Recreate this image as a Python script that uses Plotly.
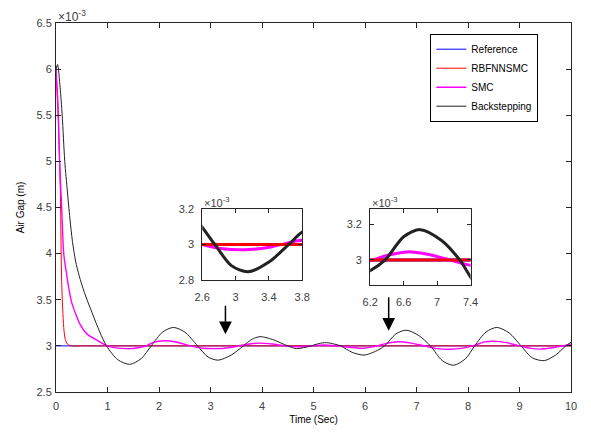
import plotly.graph_objects as go

# ---- data (values in units of 1e-3 m) ----
ref_t = [0, 10]
ref_v = [3.0, 3.0]

rbf_t = [0, 0.04, 0.07, 0.09, 0.10, 0.11, 0.13, 0.15, 0.18, 0.22, 0.30, 0.5, 10]
rbf_v = [6.0, 5.5, 5.0, 4.5, 4.0, 3.7, 3.4, 3.2, 3.07, 3.02, 3.0, 3.0, 3.0]

smc_t = [0, 0.04, 0.07, 0.11, 0.15, 0.20, 0.25, 0.30, 0.38, 0.47, 0.60, 0.80, 1.0,
         1.2, 1.4, 1.6, 1.75, 1.9, 2.1, 2.35, 2.6, 2.85, 3.1, 3.35, 3.55, 3.75, 3.95,
         4.2, 4.45, 4.7, 4.95, 5.2, 5.45, 5.7, 5.95, 6.2, 6.4, 6.65, 6.9, 7.15, 7.4,
         7.65, 7.9, 8.1, 8.3, 8.5, 8.75, 9.0, 9.2, 9.4, 9.65, 9.85, 10.0]
smc_v = [6.0, 5.6, 5.0, 4.5, 4.0, 3.8, 3.62, 3.48, 3.35, 3.23, 3.13, 3.06, 3.0,
         2.975, 2.97, 2.98, 3.0, 3.04, 3.055, 3.04, 3.0, 2.975, 2.97, 2.98, 3.0, 3.02, 3.03,
         3.02, 3.0, 2.99, 3.0, 3.01, 3.0, 2.985, 2.975, 2.995, 3.025, 3.045, 3.03, 3.0, 2.97,
         2.963, 2.975, 3.0, 3.04, 3.05, 3.035, 3.0, 2.975, 2.965, 2.98, 3.0, 3.02]

bs_t = [0, 0.03, 0.08, 0.12, 0.17, 0.22, 0.27, 0.32, 0.38, 0.45, 0.55, 0.70, 0.85, 0.98,
        1.2, 1.43, 1.65, 1.85, 2.07, 2.28, 2.5, 2.75, 2.95, 3.15, 3.4, 3.64,
        3.8, 3.96, 4.2, 4.5, 4.67, 4.8, 4.96, 5.1, 5.25, 5.4, 5.53, 5.75, 5.98,
        6.2, 6.38, 6.6, 6.8, 7.05, 7.27, 7.5, 7.72, 7.95, 8.13, 8.35, 8.56, 8.8,
        9.03, 9.25, 9.48, 9.7, 9.9, 10.0]
bs_v = [6.0, 6.05, 5.8, 5.5, 5.0, 4.68, 4.38, 4.13, 3.92, 3.76, 3.58, 3.36, 3.15, 3.0,
        2.85, 2.80, 2.86, 3.0, 3.15, 3.20, 3.15, 3.0, 2.88, 2.845, 2.9, 3.0,
        3.07, 3.10, 3.07, 3.0, 2.97, 2.98, 3.0, 3.025, 3.035, 3.02, 3.0, 2.93, 2.90,
        2.94, 3.0, 3.13, 3.17, 3.11, 3.0, 2.84, 2.79, 2.86, 3.0, 3.15, 3.2, 3.14,
        3.0, 2.87, 2.84, 2.9, 3.0, 3.04]

x_ticks = [0, 1, 2, 3, 4, 5, 6, 7, 8, 9, 10]
y_ticks = [2.5, 3, 3.5, 4, 4.5, 5, 5.5, 6, 6.5]
in1_xticks = [2.6, 3, 3.4, 3.8]
in1_yticks = [2.8, 3, 3.2]
in2_xticks = [6.2, 6.6, 7, 7.4]
in2_yticks = [3, 3.2]

series = [
    ("Reference", ref_t, ref_v, "#0000ff", 1),
    ("RBFNNSMC", rbf_t, rbf_v, "#ff0000", 1),
    ("SMC", smc_t, smc_v, "#ff00ff", 1.4),
    ("Backstepping", bs_t, bs_v, "#222222", 1),
]

FONT = "Liberation Sans, Arial, sans-serif"
AX = "#262626"
TXT = "#404040"

fig = go.Figure()
for name, t, v, c, w in series:
    fig.add_trace(go.Scatter(x=t, y=v, mode="lines", name=name,
                             line=dict(color=c, width=w, shape="spline", smoothing=0.8),
                             xaxis="x", yaxis="y"))
# insets
for ax_id in ("2", "3"):
    order = [0, 2, 1, 3]
    for i in order:
        name, t, v, c, w = series[i]
        fig.add_trace(go.Scatter(x=t, y=v, mode="lines", name=name, showlegend=False,
                                 line=dict(color=c, width=3, shape="spline", smoothing=0.8),
                                 xaxis="x" + ax_id, yaxis="y" + ax_id))

common = dict(showline=True, linecolor=AX, linewidth=1, mirror="ticks", ticks="inside",
              tickcolor=AX, showgrid=False, zeroline=False,
              tickfont=dict(family=FONT, size=11, color=TXT))

fig.update_layout(
    width=591, height=435,
    margin=dict(l=56, r=15, t=23, b=43),
    paper_bgcolor="white", plot_bgcolor="white",
    font=dict(family=FONT, size=11, color=TXT),
    xaxis=dict(range=[0, 10], tickvals=x_ticks, ticklen=5, domain=[0, 1], ticklabelstandoff=4,
               title=dict(text="Time (Sec)", font=dict(size=10, color="#000000"), standoff=4),
               **common),
    yaxis=dict(range=[2.5, 6.5], tickvals=y_ticks, ticklen=5, domain=[0, 1], ticklabelstandoff=1,
               title=dict(text="Air Gap (m)", font=dict(size=10, color="#000000"), standoff=10),
               **common),
    xaxis2=dict(range=[2.6, 3.8], tickvals=in1_xticks, ticklen=4, domain=[0.284, 0.478],
                anchor="y2", ticklabelstandoff=7, **common),
    yaxis2=dict(range=[2.8, 3.2], tickvals=in1_yticks, ticklen=4, domain=[0.304, 0.496],
                anchor="x2", ticklabelstandoff=5, **common),
    xaxis3=dict(range=[6.2, 7.4], tickvals=in2_xticks, ticklen=4, domain=[0.610, 0.805],
                anchor="y3", ticklabelstandoff=7, **common),
    yaxis3=dict(range=[2.86, 3.286], tickvals=in2_yticks, ticklen=4, domain=[0.2905, 0.496],
                anchor="x3", ticklabelstandoff=5, **common),
    legend=dict(x=0.9366, y=0.971, xanchor="right", yanchor="top",
                bgcolor="white", bordercolor="#000000", borderwidth=1,
                font=dict(family=FONT, size=10, color="#000000"),
                tracegroupgap=0, itemwidth=30),
    showlegend=True,
)

fig.add_annotation(xref="paper", yref="paper", x=0.0, y=1.0, xanchor="left", yanchor="bottom",
                   text="×10<sup>-3</sup>", showarrow=False, font=dict(size=12, color=TXT), yshift=-3)
fig.add_annotation(xref="paper", yref="paper", x=0.284, y=0.496, xanchor="left", yanchor="bottom",
                   text="×10<sup>-3</sup>", showarrow=False, font=dict(size=11, color=TXT), yshift=-2)
fig.add_annotation(xref="paper", yref="paper", x=0.610, y=0.496, xanchor="left", yanchor="bottom",
                   text="×10<sup>-3</sup>", showarrow=False, font=dict(size=11, color=TXT), yshift=-2)

# arrows pointing at the zoomed regions
fig.add_annotation(x=3.29, y=3.127, xref="x", yref="y", ax=0, ay=-30, text="",
                   showarrow=True, arrowhead=2, arrowsize=1.7, arrowwidth=1.5, arrowcolor="#000000")
fig.add_annotation(x=6.46, y=3.163, xref="x", yref="y", ax=0, ay=-35, text="",
                   showarrow=True, arrowhead=2, arrowsize=1.7, arrowwidth=1.5, arrowcolor="#000000")

fig.write_html("out.html")
